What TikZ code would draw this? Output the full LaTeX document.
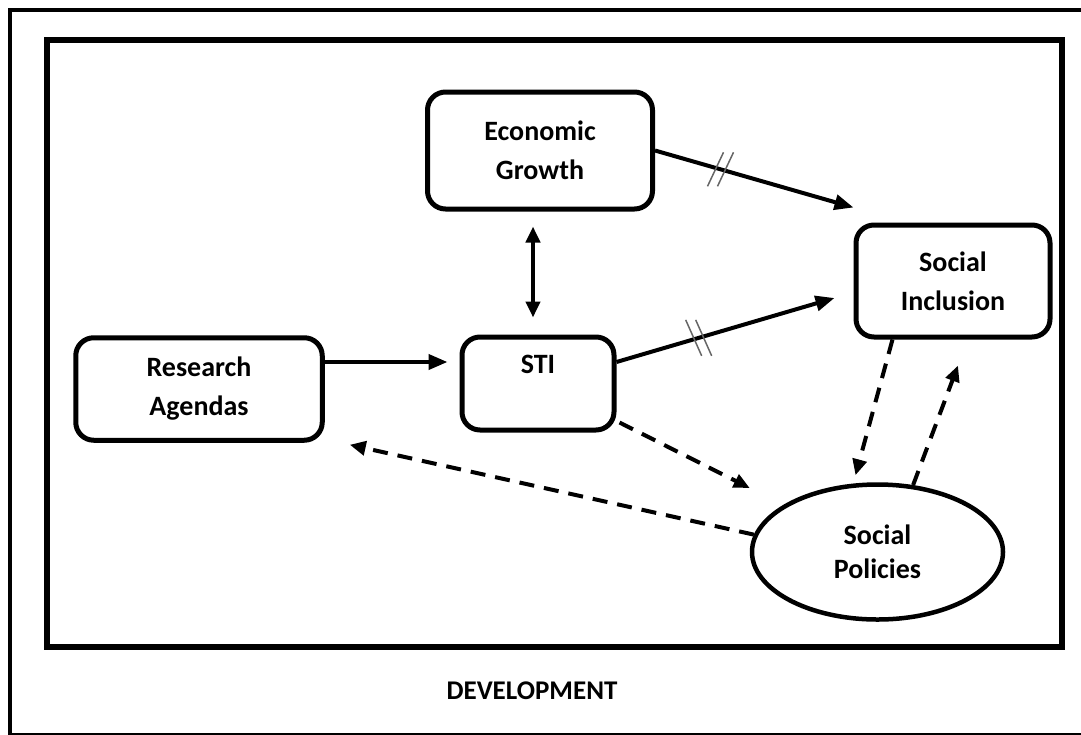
\documentclass[tikz,border=0pt]{standalone}
\usepackage{fontspec}
\setmainfont{Carlito}
\usetikzlibrary{arrows.meta,shapes.geometric}

\begin{document}
\begin{tikzpicture}[x=1pt, y=-1pt,
    box/.style={draw, line width=5pt, rounded corners=18pt, align=center,
        font=\bfseries\fontsize{28}{39}\selectfont},
    oval/.style={draw, ellipse, line width=4.5pt, align=center, inner sep=0pt,
        font=\bfseries\fontsize{28}{34}\selectfont},
    arrow/.style={line width=4pt, -{Triangle[length=19pt, width=15pt]}},
    dasharrow/.style={line width=4pt, dash pattern=on 15pt off 10pt,
        -{Triangle[length=16pt, width=14pt]}},
    tick/.style={line width=1.5pt, black!60}]
    % page size and frames
    \useasboundingbox (0,0) rectangle (1081,734);
    \clip (0,0) rectangle (1081,734);
    \draw[line width=4pt] (10,10) rectangle (1100,735);
    \draw[line width=6pt] (47,39.5) rectangle (1062,647);

    % the boxes
    \node[box, minimum width=225, minimum height=117] (eg) at (540,150.5) {Economic\\Growth};
    \node[box, minimum width=194, minimum height=112] (si) at (953,281) {Social\\Inclusion};
    \node[box, minimum width=246.5, minimum height=102.5] (ra) at (199,389) {Research\\Agendas};
    \node[box, minimum width=152, minimum height=93] (sti) at (538,383.5) {STI\\\mbox{}};
    \node[oval, minimum width=251, minimum height=135] (sp) at (877.5,552) {Social\\Policies};

    % solid arrows
    \draw[arrow] ([yshift=27pt]ra.east) -- ([yshift=27pt]ra.east -| sti.west)
        [shorten >=12pt];
    \draw[line width=4pt, {Triangle[length=16pt, width=14pt]}-{Triangle[length=16pt, width=14pt]},
        shorten <=15pt, shorten >=17pt]
        ([xshift=-7pt]eg.south) -- ([xshift=-7pt]eg.south |- sti.north);
    \draw[arrow] (eg.east) -- ([yshift=15pt]si.north west)
        coordinate[pos=0.33] (tickA);
    \draw[arrow] ([yshift=21.5pt]sti.east) -- ([shift={(-19pt,-17pt)}]si.west)
        coordinate[pos=0.377] (tickB);

    % double ticks on the arrows to Social Inclusion
    \draw[tick] ([xshift=-5pt]tickA) +(-8,17) -- +(8,-17);
    \draw[tick] ([xshift=5pt]tickA) +(-8,17) -- +(8,-17);
    \draw[tick] ([xshift=-5pt]tickB) +(-8,-18) -- +(8,18);
    \draw[tick] ([xshift=5pt]tickB) +(-8,-18) -- +(8,18);

    % dashed arrows
    \draw[dasharrow] ([shift={(3pt,10pt)}]sti.south east) -- ([yshift=64pt]sp.west);
    \draw[dasharrow] (sp.172) -- ([shift={(25pt,-2pt)}]ra.south east);
    \draw[dasharrow] ([xshift=39pt]si.south west) -- ([shift={(-22pt,7pt)}]sp.north);
    \draw[dasharrow] (sp.62) -- ([shift={(5pt,-26pt)}]si.south);

    % caption
    \node[font=\bfseries\fontsize{27}{32}\selectfont] (dev) at (532,691) {DEVELOPMENT};
\end{tikzpicture}
\end{document}
